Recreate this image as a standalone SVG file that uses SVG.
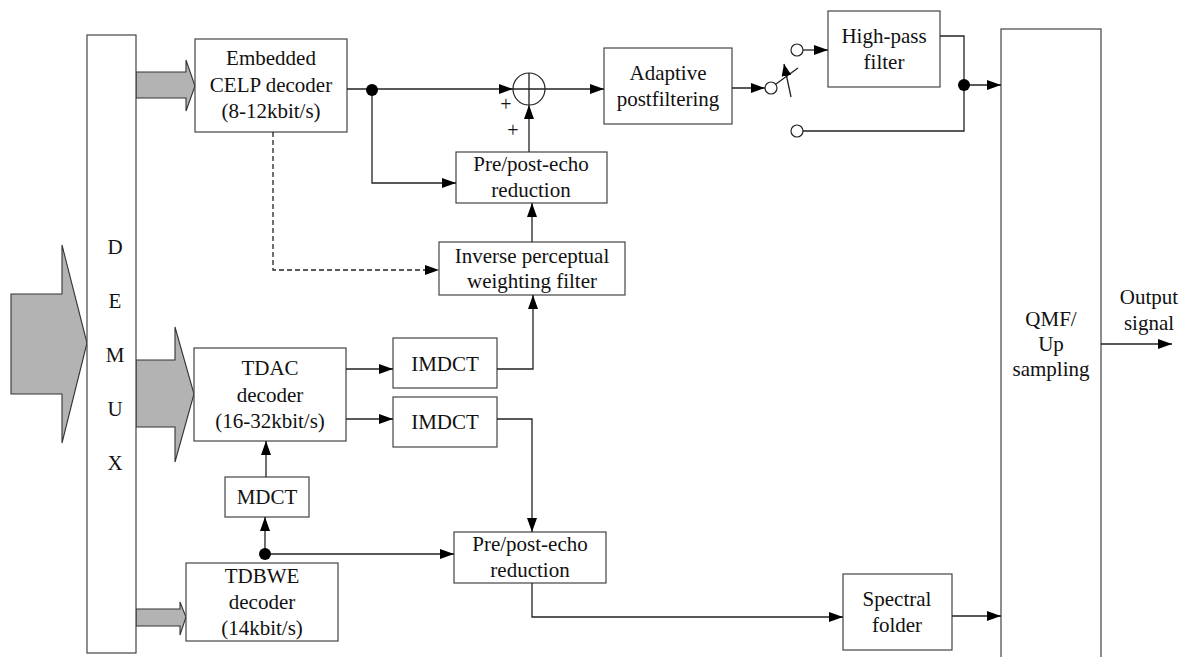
<svg xmlns="http://www.w3.org/2000/svg" width="1184" height="657" viewBox="0 0 1184 657" font-family="Liberation Serif, Times New Roman, serif">
<defs>
<marker id="ah" viewBox="0 0 14 10" refX="14" refY="5" markerWidth="14" markerHeight="10" orient="auto" markerUnits="userSpaceOnUse"><path d="M0,0 L14,5 L0,10 z" fill="#000"/></marker>
<marker id="ahs" viewBox="0 0 12 10" refX="12" refY="5" markerWidth="12" markerHeight="10" orient="auto" markerUnits="userSpaceOnUse"><path d="M0,0 L12,5 L0,10 z" fill="#000"/></marker>
</defs>
<style>
.box{fill:#fff;stroke:#444;stroke-width:1.2}
text{font-family:"Liberation Serif","Times New Roman",serif}
.t{font-size:21px;fill:#111;text-anchor:middle}
.p{font-size:20px;fill:#111;text-anchor:middle}
.c{fill:none;stroke:#222;stroke-width:1.3}
.a{marker-end:url(#ah)}
.d{stroke-dasharray:5,3}
.g{fill:#b3b3b3;stroke:#333;stroke-width:1.1}
.dot{fill:#000}
.sw{fill:#fff;stroke:#222;stroke-width:1.2}
</style>
<rect width="1184" height="657" fill="#fff"/>

<g id="input-arrows">
<path class="g" d="M11,294 L62,294 L62,245 L87,343 L62,443 L62,394 L11,394 Z"/>
<path class="g" d="M136,72 L186,72 L186,60 L195,86 L186,111 L186,98 L136,98 Z"/>
<path class="g" d="M136,360 L175,360 L175,327 L194,394 L175,462 L175,427 L136,427 Z"/>
<path class="g" d="M136,609 L180,609 L180,602 L186,617 L180,635 L180,626 L136,626 Z"/>
</g>

<g id="demux">
<rect class="box" x="87" y="35" width="49" height="618"/>
<text class="t" x="115" y="254">D</text>
<text class="t" x="115" y="308">E</text>
<text class="t" x="115" y="362">M</text>
<text class="t" x="115" y="416">U</text>
<text class="t" x="115" y="470">X</text>
</g>

<g id="celp">
<rect class="box" x="195" y="39" width="152" height="93"/>
<text class="t" x="271" y="65">Embedded</text>
<text class="t" x="271" y="92">CELP decoder</text>
<text class="t" x="271" y="118">(8-12kbit/s)</text>
</g>

<g id="adaptive">
<rect class="box" x="604" y="48" width="128" height="76"/>
<text class="t" x="668" y="80">Adaptive</text>
<text class="t" x="668" y="106">postfiltering</text>
</g>

<g id="highpass">
<rect class="box" x="828" y="11" width="112" height="76"/>
<text class="t" x="884" y="43">High-pass</text>
<text class="t" x="884" y="69">filter</text>
</g>

<g id="sum">
<circle cx="529" cy="89" r="16" fill="#fff" stroke="#222" stroke-width="1.2"/>
<path class="c" d="M513,89 H545 M529,73 V105"/>
<text class="p" x="506" y="111">+</text>
<text class="p" x="513" y="137">+</text>
</g>

<g id="prepost1">
<rect class="box" x="456" y="152" width="151" height="51"/>
<text class="t" x="531" y="171">Pre/post-echo</text>
<text class="t" x="531" y="197">reduction</text>
</g>

<g id="inverse">
<rect class="box" x="439" y="242" width="186" height="53"/>
<text class="t" x="532" y="263">Inverse perceptual</text>
<text class="t" x="532" y="288">weighting filter</text>
</g>

<g id="imdct1">
<rect class="box" x="393" y="338" width="104" height="50"/>
<text class="t" x="445" y="371">IMDCT</text>
</g>

<g id="imdct2">
<rect class="box" x="393" y="397" width="104" height="50"/>
<text class="t" x="445" y="429">IMDCT</text>
</g>

<g id="tdac">
<rect class="box" x="194" y="348" width="152" height="93"/>
<text class="t" x="270" y="375">TDAC</text>
<text class="t" x="270" y="402">decoder</text>
<text class="t" x="270" y="428">(16-32kbit/s)</text>
</g>

<g id="mdct">
<rect class="box" x="225" y="477" width="84" height="40"/>
<text class="t" x="267" y="504">MDCT</text>
</g>

<g id="tdbwe">
<rect class="box" x="186" y="563" width="152" height="78"/>
<text class="t" x="262" y="583">TDBWE</text>
<text class="t" x="262" y="609">decoder</text>
<text class="t" x="262" y="635">(14kbit/s)</text>
</g>

<g id="prepost2">
<rect class="box" x="454" y="532" width="152" height="51"/>
<text class="t" x="530" y="551">Pre/post-echo</text>
<text class="t" x="530" y="577">reduction</text>
</g>

<g id="spectral">
<rect class="box" x="843" y="574" width="109" height="76"/>
<text class="t" x="897" y="606">Spectral</text>
<text class="t" x="897" y="632">folder</text>
</g>

<g id="qmf">
<rect class="box" x="1001" y="29" width="100" height="650"/>
<text class="t" x="1051" y="326">QMF/</text>
<text class="t" x="1051" y="351">Up</text>
<text class="t" x="1051" y="376">sampling</text>
</g>

<g id="output">
<text class="t" x="1149" y="304">Output</text>
<text class="t" x="1149" y="330">signal</text>
</g>

<g id="switch">
<circle class="sw" cx="771" cy="88" r="6"/>
<circle class="sw" cx="797" cy="50" r="6"/>
<circle class="sw" cx="797" cy="131" r="6"/>
<path class="c" d="M776,84 L798,68"/>
<path class="c" d="M791,97 L784,64" marker-end="url(#ahs)"/>
</g>

<g id="connectors">
<path class="c a" d="M347,89 H513"/>
<path class="c a" d="M372,89 V183 H456"/>
<path class="c a" d="M529,152 V105"/>
<path class="c a" d="M545,89 H604"/>
<path class="c a" d="M732,88 H765"/>
<path class="c a" d="M803,50 H828"/>
<path class="c" d="M940,36 H964 V131 H803"/>
<path class="c a" d="M964,85 H1001"/>
<path class="c a" d="M1101,344 H1172"/>
<path class="c d a" d="M273,132 V270 H439"/>
<path class="c a" d="M532,242 V203"/>
<path class="c a" d="M346,369 H393"/>
<path class="c a" d="M497,369 H533 V295"/>
<path class="c a" d="M346,419 H393"/>
<path class="c a" d="M497,419 H532 V532"/>
<path class="c a" d="M266,477 V441"/>
<path class="c a" d="M265,554 V517"/>
<path class="c a" d="M265,554 H454"/>
<path class="c a" d="M532,583 V617 H843"/>
<path class="c a" d="M952,616 H1001"/>
<circle class="dot" cx="372" cy="90" r="6"/>
<circle class="dot" cx="964" cy="85" r="6"/>
<circle class="dot" cx="265" cy="554" r="6"/>
</g>
</svg>
